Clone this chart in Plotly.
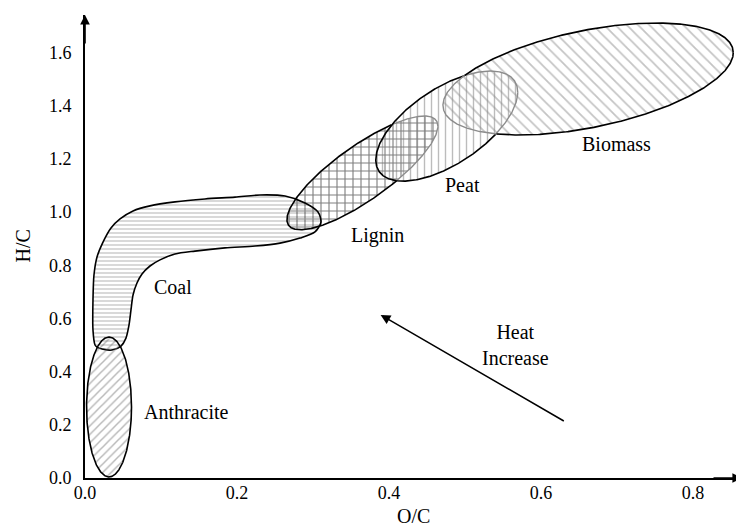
import numpy as np
import plotly.graph_objects as go

# ---------------- data (O/C on x, H/C on y) ----------------
x_ticks = [0.0, 0.2, 0.4, 0.6, 0.8]
y_ticks = [0.0, 0.2, 0.4, 0.6, 0.8, 1.0, 1.2, 1.4, 1.6]

# ellipse regions: centre O/C, centre H/C, half-width O/C, half-height H/C, tilt correlation
region_names = ["Anthracite", "Lignin", "Peat", "Biomass"]
region_cx = [0.0316, 0.365, 0.476, 0.662]
region_cy = [0.267, 1.147, 1.323, 1.500]
region_rx = [0.0296, 0.0993, 0.0934, 0.191]
region_ry = [0.263, 0.214, 0.207, 0.2105]
region_rho = [0.0, 0.82, 0.615, 0.47]

# coal band outline (O/C, H/C)
coal_oc = [0.0132, 0.0105, 0.0105, 0.0118, 0.0158, 0.0237, 0.0342, 0.0461, 0.0632,
           0.0855, 0.1184, 0.1579, 0.1974, 0.2303, 0.2632, 0.2895, 0.3066, 0.3105,
           0.3026, 0.2829, 0.2566, 0.2237, 0.1842, 0.1447, 0.1184, 0.0987, 0.0855,
           0.0750, 0.0684, 0.0632, 0.0605, 0.0579, 0.0539, 0.0474, 0.0355, 0.0224,
           0.0158]
coal_hc = [0.500, 0.556, 0.669, 0.763, 0.831, 0.887, 0.940, 0.974, 1.004,
           1.023, 1.038, 1.049, 1.056, 1.064, 1.060, 1.034, 1.000, 0.962,
           0.925, 0.902, 0.883, 0.872, 0.865, 0.853, 0.842, 0.820, 0.797,
           0.767, 0.733, 0.688, 0.632, 0.575, 0.526, 0.496, 0.481, 0.485,
           0.492]

label_text = ["Coal", "Anthracite", "Lignin", "Peat", "Biomass", "Heat<br>Increase"]
label_oc = [0.1158, 0.134, 0.3855, 0.497, 0.700, 0.567]
label_hc = [0.718, 0.248, 0.9135, 1.101, 1.256, 0.500]

arrow_tail = (0.632, 0.211)
arrow_tip = (0.389, 0.613)

# ---------------- helpers ----------------
def ellipse(i, n=300):
    t = np.linspace(0, 2 * np.pi, n)
    r = region_rho[i]
    x = region_cx[i] + region_rx[i] * np.cos(t)
    y = region_cy[i] + region_ry[i] * (r * np.cos(t) + np.sqrt(1 - r * r) * np.sin(t))
    return x, y

def inside(i, x, y):
    r = region_rho[i]
    dx = (x - region_cx[i]) / region_rx[i]
    dy = (y - region_cy[i]) / region_ry[i]
    return (dx * dx - 2 * r * dx * dy + dy * dy) / (1 - r * r) <= 1.0

FONT = "Liberation Serif"
fig = go.Figure()

patterns = {
    "Anthracite": dict(shape="/", size=6, solidity=0.24, fgcolor="#6f6f6f"),
    "Lignin": dict(shape="+", size=8, solidity=0.26, fgcolor="#000000"),
    "Peat": dict(shape="|", size=7, solidity=0.2, fgcolor="#7a7a7a"),
    "Biomass": dict(shape="\\", size=8, solidity=0.22, fgcolor="#8a8a8a"),
}

# coal fill
fig.add_trace(go.Scatter(
    x=coal_oc + [coal_oc[0]], y=coal_hc + [coal_hc[0]], mode="lines", fill="toself",
    fillcolor="rgba(0,0,0,0)",
    fillpattern=dict(shape="-", size=4, solidity=0.34, fgcolor="#8f8f8f",
                     bgcolor="rgba(0,0,0,0)"),
    line=dict(color="black", width=1.6, shape="spline", smoothing=0.8),
    hoverinfo="skip", showlegend=False))

# ellipse fills
for i, name in enumerate(region_names):
    x, y = ellipse(i)
    p = dict(patterns[name])
    p["bgcolor"] = "rgba(0,0,0,0)"
    fig.add_trace(go.Scatter(
        x=x, y=y, mode="lines", fill="toself", fillcolor="rgba(0,0,0,0)",
        fillpattern=p, line=dict(width=0, color="rgba(0,0,0,0)"),
        hoverinfo="skip", showlegend=False))

# outlines (grey where hidden under another region)
grey_under = {"Lignin": ["Peat"], "Peat": ["Biomass"], "Biomass": ["Peat"]}
for i, name in enumerate(region_names):
    x, y = ellipse(i, 600)
    mask = np.zeros_like(x, dtype=bool)
    for other in grey_under.get(name, []):
        mask |= inside(region_names.index(other), x, y)
    xb = np.where(mask, np.nan, x)
    yb = np.where(mask, np.nan, y)
    fig.add_trace(go.Scatter(x=xb, y=yb, mode="lines",
                             line=dict(color="black", width=1.6),
                             hoverinfo="skip", showlegend=False))
    if mask.any():
        m2 = mask | np.roll(mask, 1) | np.roll(mask, -1)
        xg = np.where(m2, x, np.nan)
        yg = np.where(m2, y, np.nan)
        fig.add_trace(go.Scatter(x=xg, y=yg, mode="lines",
                                 line=dict(color="#8c8c8c", width=1.4),
                                 hoverinfo="skip", showlegend=False))

# labels
for t, xo, yo in zip(label_text, label_oc, label_hc):
    fig.add_annotation(x=xo, y=yo, text=t, showarrow=False,
                       font=dict(family=FONT, size=20, color="black"))

# heat arrow
fig.add_annotation(x=arrow_tip[0], y=arrow_tip[1], ax=arrow_tail[0], ay=arrow_tail[1],
                   xref="x", yref="y", axref="x", ayref="y", text="",
                   showarrow=True, arrowhead=2, arrowsize=1.3, arrowwidth=1.5,
                   arrowcolor="black")

# axis arrowheads
fig.add_annotation(x=0, y=1, xref="paper", yref="paper", ax=0, ay=30, text="",
                   showarrow=True, arrowhead=2, arrowsize=1.2, arrowwidth=1.6,
                   arrowcolor="black")
fig.add_annotation(x=1, y=0, xref="paper", yref="paper", ax=-30, ay=0, text="",
                   showarrow=True, arrowhead=2, arrowsize=1.2, arrowwidth=1.6,
                   arrowcolor="black")

# axis titles
fig.add_annotation(x=0, y=0.5, xref="paper", yref="paper", text="H/C", textangle=-90,
                   showarrow=False, xanchor="center", yanchor="middle", xshift=-63,
                   font=dict(family=FONT, size=20))
fig.add_annotation(x=0.5, y=0, xref="paper", yref="paper", text="O/C",
                   showarrow=False, xanchor="center", yanchor="middle", yshift=-38,
                   font=dict(family=FONT, size=20))

# page body has an 8px margin, so the figure is sized/offset to compensate
fig.update_layout(
    width=736, height=519,
    margin=dict(l=77, r=2, t=7, b=49, autoexpand=False),
    paper_bgcolor="white", plot_bgcolor="white",
    font=dict(family=FONT, size=18, color="black"),
    xaxis=dict(range=[0, 0.8645], tickvals=x_ticks, tickformat=".1f",
               showgrid=False, zeroline=False, showline=True, linecolor="black",
               linewidth=1.6, ticks="", ticklabelstandoff=-2, automargin=False),
    yaxis=dict(range=[0, 1.7406], tickvals=y_ticks, tickformat=".1f",
               showgrid=False, zeroline=False, showline=True, linecolor="black",
               linewidth=1.6, ticks="", ticklabelstandoff=8, automargin=False),
)

fig.write_html("out.html")
